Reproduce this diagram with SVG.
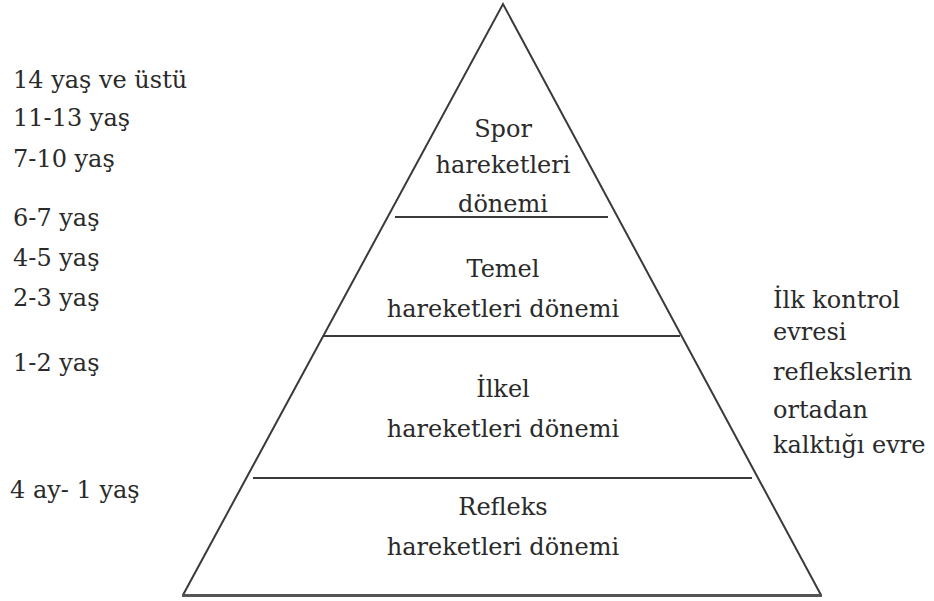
<svg xmlns="http://www.w3.org/2000/svg" width="934" height="601" viewBox="0 0 934 601">
  <style>
    .t { font-family: "DejaVu Serif", "Liberation Serif", serif; font-size: 24px; fill: #2a2a2a; }
    .c { text-anchor: middle; }
    .edge { fill: none; stroke: #3a3a3a; stroke-width: 2; stroke-linejoin: miter; }
    .div { stroke: #3a3a3a; stroke-width: 2.2; }
    .base { stroke: #555; stroke-width: 3; }
  </style>
  <rect width="934" height="601" fill="#ffffff"/>
  <g id="connectors">
    <polyline class="edge" points="183,595 503,4 821,595"/>
    <line class="base" x1="182" y1="595.5" x2="822" y2="595.5"/>
    <line class="div" x1="395" y1="217" x2="608" y2="217"/>
    <line class="div" x1="323" y1="336" x2="680" y2="336"/>
    <line class="div" x1="253" y1="478" x2="752" y2="478"/>
  </g>
  <g id="tier-spor">
    <text class="t c" x="503" y="137">Spor</text>
    <text class="t c" x="503" y="173">hareketleri</text>
    <text class="t c" x="503" y="212">dönemi</text>
  </g>
  <g id="tier-temel">
    <text class="t c" x="503" y="277">Temel</text>
    <text class="t c" x="503" y="317">hareketleri dönemi</text>
  </g>
  <g id="tier-ilkel">
    <text class="t c" x="503" y="397">İlkel</text>
    <text class="t c" x="503" y="437">hareketleri dönemi</text>
  </g>
  <g id="tier-refleks">
    <text class="t c" x="503" y="515">Refleks</text>
    <text class="t c" x="503" y="555">hareketleri dönemi</text>
  </g>
  <g id="ages">
    <text class="t" x="13" y="88">14 yaş ve üstü</text>
    <text class="t" x="13" y="126">11-13 yaş</text>
    <text class="t" x="13" y="167">7-10 yaş</text>
    <text class="t" x="13" y="226">6-7 yaş</text>
    <text class="t" x="13" y="266">4-5 yaş</text>
    <text class="t" x="13" y="306">2-3 yaş</text>
    <text class="t" x="13" y="371">1-2 yaş</text>
    <text class="t" x="10" y="498">4 ay- 1 yaş</text>
  </g>
  <g id="note">
    <text class="t" x="773" y="308">İlk kontrol</text>
    <text class="t" x="773" y="340">evresi</text>
    <text class="t" x="773" y="380">reflekslerin</text>
    <text class="t" x="773" y="418">ortadan</text>
    <text class="t" x="773" y="453">kalktığı evre</text>
  </g>
</svg>
